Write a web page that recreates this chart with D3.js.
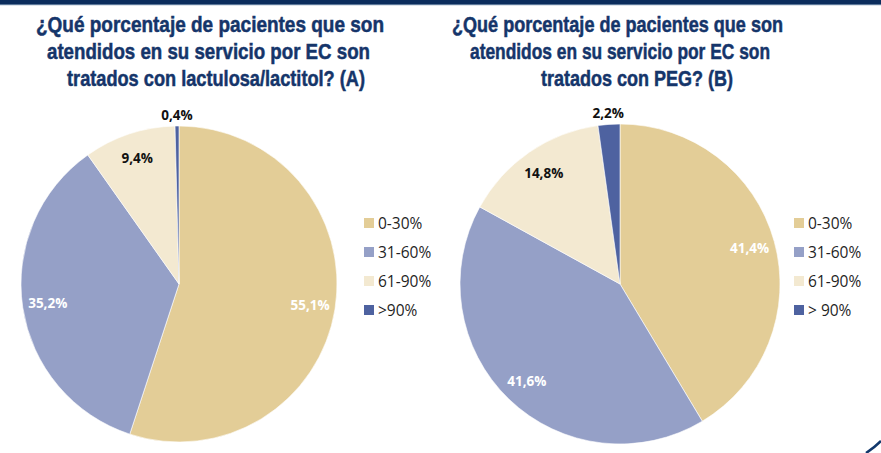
<!DOCTYPE html>
<html>
<head>
<meta charset="utf-8">
<script src="https://cdn.jsdelivr.net/npm/d3@7"></script>
<style>
  body { margin: 0; background: #fff; }
  svg { display: block; }
</style>
</head>
<body>
<div id="chart-area"></div>
<script>
var width = 881;
var height = 453;

var categoriesA = ["0-30%", "31-60%", "61-90%", ">90%"];
var categoriesB = ["0-30%", "31-60%", "61-90%", "> 90%"];
var valuesA = [55.1, 35.2, 9.4, 0.4];
var valuesB = [41.4, 41.6, 14.8, 2.2];
var titleA = ["¿Qué porcentaje de pacientes que son", "atendidos  en su servicio por EC son", "tratados con lactulosa/lactitol? (A)"];
var titleB = ["¿Qué porcentaje de pacientes que son", "atendidos en su servicio por EC son", "tratados con PEG? (B)"];

// title line placement: [left x, width]
var titleLayoutA = [[36, 348], [47, 323], [67, 298]];
var titleLayoutB = [[452, 331], [470, 300], [541, 192]];

var colors = ["#e3cd97", "#95a0c7", "#f3e9d1", "#4e62a0"];
var labelColors = ["#ffffff", "#ffffff", "#111111", "#111111"];
var navy = "#15356a";

var svg = d3.select("#chart-area")
  .append("svg")
  .attr("width", width)
  .attr("height", height);

// top band
svg.append("rect").attr("x", 0).attr("y", 0).attr("width", width).attr("height", 4).attr("fill", "#0b2c5c");
svg.append("rect").attr("x", 0).attr("y", 4).attr("width", width).attr("height", 1.2).attr("fill", "#5a7698");

// corner arc bottom-right
svg.append("path")
  .attr("d", "M866,453 Q874,448 881,441")
  .attr("fill", "none")
  .attr("stroke", "#12386c")
  .attr("stroke-width", 2.5);

var color = d3.scaleOrdinal().domain(d3.range(4)).range(colors);

function drawTitle(lines, layout) {
  var t = svg.append("g");
  t.selectAll("text")
    .data(lines)
    .enter()
    .append("text")
    .attr("x", function(d, i){ return layout[i][0]; })
    .attr("y", function(d, i){ return 32 + i * 27; })
    .attr("textLength", function(d, i){ return layout[i][1]; })
    .attr("lengthAdjust", "spacingAndGlyphs")
    .attr("fill", navy)
    .attr("stroke", navy)
    .attr("stroke-width", 0.5)
    .style("font-family", "'Liberation Sans', Arial, sans-serif")
    .style("font-weight", "bold")
    .style("font-size", "21.5px")
    .text(function(d){ return d; });
}

function drawPie(values, cats, cx, cy, r, legendX) {
  var pie = d3.pie().sort(null).value(function(d){ return d; });
  var arc = d3.arc().innerRadius(0).outerRadius(r);
  var g = svg.append("g").attr("transform", "translate(" + cx + ", " + cy + ")");
  var arcs = pie(values);

  g.selectAll("path")
    .data(arcs)
    .enter()
    .append("path")
    .attr("d", arc)
    .attr("fill", function(d, i){ return color(i); })
    .attr("stroke", "#ffffff")
    .attr("stroke-width", 0.6);

  var inner = d3.arc().innerRadius(r * 0.84).outerRadius(r * 0.84);
  var outer = d3.arc().innerRadius(r + 11).outerRadius(r + 11);

  g.selectAll("text")
    .data(arcs)
    .enter()
    .append("text")
    .attr("transform", function(d){
      var c = d.data < 3 ? outer.centroid(d) : inner.centroid(d);
      return "translate(" + c + ")";
    })
    .attr("text-anchor", "middle")
    .attr("dy", "0.35em")
    .attr("fill", function(d, i){ return d.data < 3 ? "#111" : labelColors[i]; })
    .style("font-family", "'Open Sans', sans-serif")
    .style("font-weight", "bold")
    .style("font-size", "13.5px")
    .text(function(d){ return d3.format(".1f")(d.data).replace(".", ",") + "%"; });

  var legend = svg.append("g").attr("transform", "translate(" + legendX + ", 218)");
  var item = legend.selectAll("g")
    .data(cats)
    .enter()
    .append("g")
    .attr("transform", function(d, i){ return "translate(0, " + (i * 29) + ")"; });
  item.append("rect")
    .attr("width", 10).attr("height", 10)
    .attr("fill", function(d, i){ return color(i); });
  item.append("text")
    .attr("x", 14)
    .attr("y", 5)
    .attr("dy", "0.36em")
    .attr("fill", "#1f1f1f")
    .style("font-family", "'Open Sans', sans-serif")
    .style("font-size", "15.5px")
    .text(function(d){ return d; });
}

drawTitle(titleA, titleLayoutA);
drawTitle(titleB, titleLayoutB);
drawPie(valuesA, categoriesA, 179, 284, 158, 364);
drawPie(valuesB, categoriesB, 620, 284, 160, 794);
</script>
</body>
</html>
